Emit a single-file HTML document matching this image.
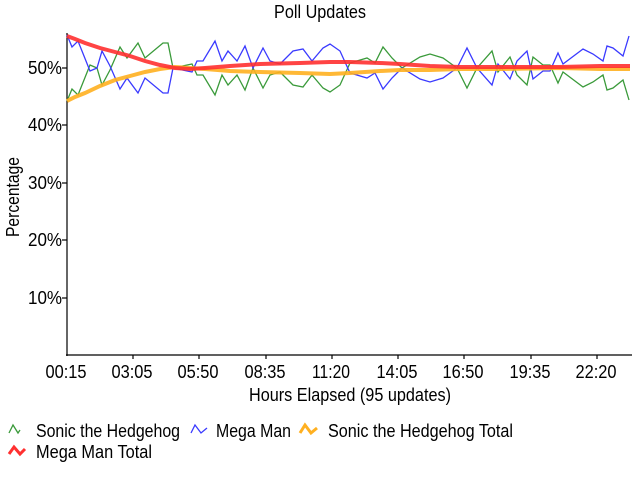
<!DOCTYPE html>
<html><head><meta charset="utf-8"><style>
body{margin:0;background:#fff;}
svg text{font-family:"Liberation Sans Narrow","Liberation Sans",sans-serif;fill:#000;}
</style></head><body>
<svg width="640" height="480" viewBox="0 0 640 480" xmlns="http://www.w3.org/2000/svg">
<text x="274" y="18" font-size="18" textLength="92" lengthAdjust="spacingAndGlyphs">Poll Updates</text>
<text transform="translate(19,197) rotate(-90)" font-size="18" text-anchor="middle" textLength="80" lengthAdjust="spacingAndGlyphs">Percentage</text>
<g font-size="18" text-anchor="end">
<text x="62" y="74" textLength="34" lengthAdjust="spacingAndGlyphs">50%</text><text x="62" y="131" textLength="34" lengthAdjust="spacingAndGlyphs">40%</text><text x="62" y="189" textLength="34" lengthAdjust="spacingAndGlyphs">30%</text>
<text x="62" y="246" textLength="34" lengthAdjust="spacingAndGlyphs">20%</text><text x="62" y="304" textLength="34" lengthAdjust="spacingAndGlyphs">10%</text>
</g>
<g stroke="#000" stroke-width="1.2">
<line x1="67" y1="33" x2="67" y2="356"/>
<line x1="66" y1="355" x2="632" y2="355"/>
<line x1="62" y1="68" x2="67" y2="68"/><line x1="62" y1="125" x2="67" y2="125"/><line x1="62" y1="183" x2="67" y2="183"/><line x1="62" y1="240" x2="67" y2="240"/><line x1="62" y1="298" x2="67" y2="298"/>
<line x1="133" y1="355" x2="133" y2="359"/><line x1="199" y1="355" x2="199" y2="359"/><line x1="266" y1="355" x2="266" y2="359"/><line x1="332" y1="355" x2="332" y2="359"/><line x1="398" y1="355" x2="398" y2="359"/><line x1="464" y1="355" x2="464" y2="359"/><line x1="531" y1="355" x2="531" y2="359"/><line x1="597" y1="355" x2="597" y2="359"/>
</g>
<g font-size="18" text-anchor="middle">
<text x="66" y="378" textLength="41" lengthAdjust="spacingAndGlyphs">00:15</text><text x="132" y="378" textLength="41" lengthAdjust="spacingAndGlyphs">03:05</text><text x="198" y="378" textLength="41" lengthAdjust="spacingAndGlyphs">05:50</text><text x="265" y="378" textLength="41" lengthAdjust="spacingAndGlyphs">08:35</text><text x="331" y="378" textLength="38" lengthAdjust="spacingAndGlyphs">11:20</text><text x="397" y="378" textLength="41" lengthAdjust="spacingAndGlyphs">14:05</text><text x="463" y="378" textLength="41" lengthAdjust="spacingAndGlyphs">16:50</text><text x="530" y="378" textLength="41" lengthAdjust="spacingAndGlyphs">19:35</text><text x="596" y="378" textLength="41" lengthAdjust="spacingAndGlyphs">22:20</text>
<text x="350" y="401" textLength="202" lengthAdjust="spacingAndGlyphs">Hours Elapsed (95 updates)</text>
</g>
<polyline fill="none" stroke="#3a9a3a" stroke-width="1.3" points="67,101 72,89 78,95 90,65 97,68 102,85 110,70 120,47 127,58 138,43 145,58 163,43 168,43 173,68 192,64 197,75 203,75 215,95 222,75 228,85 237,75 245,90 253,68 263,88 270,75 280,72 293,85 303,87 312,75 323,88 330,92 340,85 350,63 367,58 375,63 383,47 392,58 402,68 420,57 430,54 443,58 457,68 467,88 477,68 492,51 498,72 510,57 517,75 527,85 533,57 543,65 550,65 558,83 563,72 583,87 593,82 603,75 607,90 613,88 623,80 629,100"/>
<polyline fill="none" stroke="#3a3aff" stroke-width="1.3" points="67,35 72,47 78,41 90,71 97,68 102,51 110,66 120,89 127,78 138,93 145,78 163,93 168,93 173,68 192,72 197,61 203,61 215,41 222,61 228,51 237,61 245,46 253,68 263,48 270,61 280,64 293,51 303,49 312,61 323,48 330,44 340,51 350,73 367,78 375,73 383,89 392,78 402,68 420,79 430,82 443,78 457,68 467,48 477,68 492,85 498,64 510,79 517,61 527,51 533,79 543,71 550,71 558,53 563,64 583,49 593,54 603,61 607,46 613,48 623,56 629,36"/>
<polyline fill="none" stroke="#ffb020" stroke-opacity="0.9" stroke-width="4" points="67,101 75,97 85,93 100,86 115,80 130,76 145,72 160,69 175,67 190,68 205,69 230,71 260,72 300,73 330,74 350,73 380,71 400,70 430,70 460,69 500,69 560,68 600,69 630,69"/>
<polyline fill="none" stroke="#ff3030" stroke-opacity="0.9" stroke-width="4" points="67,36 75,39 85,43 100,48 115,52 130,56 145,61 160,65 175,68 190,69 205,68 230,66 260,64 300,63 330,62 350,62 380,63 400,64 430,66 460,67 500,67 560,67 600,66 630,66"/>
<g font-size="18">
<polyline fill="none" stroke="#3a9a3a" stroke-width="1.3" points="9,433 13,425 18,433 20,430"/>
<text x="36" y="437" textLength="144" lengthAdjust="spacingAndGlyphs">Sonic the Hedgehog</text>
<polyline fill="none" stroke="#3a3aff" stroke-width="1.3" points="191,433 195,425 201,433 207,428"/>
<text x="216" y="437" textLength="75" lengthAdjust="spacingAndGlyphs">Mega Man</text>
<polyline fill="none" stroke="#ffb020" stroke-width="3" points="300,433 305,425 311,433 317,428"/>
<text x="328" y="437" textLength="185" lengthAdjust="spacingAndGlyphs">Sonic the Hedgehog Total</text>
<polyline fill="none" stroke="#ff3030" stroke-width="3" points="9,454 14,447 20,454 25,449"/>
<text x="36" y="458" textLength="116" lengthAdjust="spacingAndGlyphs">Mega Man Total</text>
</g>
</svg>
</body></html>
